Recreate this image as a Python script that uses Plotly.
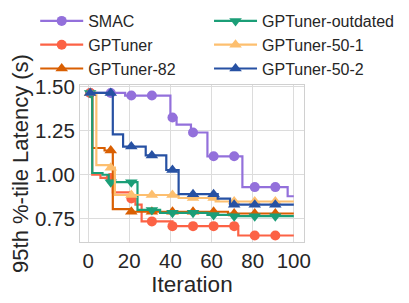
import numpy as np
import plotly.graph_objects as go

# Iteration axis
iterations = list(range(1, 101))
marker_iters = list(range(1, 101, 10))
x_ticks = [0, 20, 40, 60, 80, 100]
y_ticks = [0.75, 1.00, 1.25, 1.50]

series_names = ["SMAC", "GPTuner", "GPTuner-82",
                "GPTuner-outdated", "GPTuner-50-1", "GPTuner-50-2"]

# best-so-far latency: (iteration where value changes, new value)
smac_x = [1, 18, 40, 43, 50, 58, 75, 97]
smac_y = [1.465, 1.450, 1.325, 1.285, 1.240, 1.105, 0.930, 0.878]

gptuner_x = [1, 2, 6, 12, 21, 23, 26, 41, 73]
gptuner_y = [1.465, 1.000, 0.982, 0.900, 0.865, 0.830, 0.735, 0.708, 0.655]

gpt82_x = [1, 2, 8, 12, 21, 68]
gpt82_y = [1.465, 1.152, 1.138, 0.805, 0.790, 0.780]

outdated_x = [1, 2, 7, 10, 24, 35, 58, 70]
outdated_y = [1.465, 1.010, 1.000, 0.958, 0.800, 0.784, 0.772, 0.765]

gpt501_x = [1, 4, 10, 13, 44, 62]
gpt501_y = [1.465, 1.055, 1.040, 0.885, 0.868, 0.848]

gpt502_x = [1, 12, 17, 28, 38, 44, 63, 69]
gpt502_y = [1.465, 1.230, 1.160, 1.110, 1.027, 0.890, 0.865, 0.830]

breaks = [(smac_x, smac_y), (gptuner_x, gptuner_y), (gpt82_x, gpt82_y),
          (outdated_x, outdated_y), (gpt501_x, gpt501_y), (gpt502_x, gpt502_y)]

colors = ["#9370DB", "#FC6245", "#D95F02", "#1B9E77", "#FDBF6F", "#2751A3"]
symbols = ["circle", "circle", "triangle-up", "triangle-down", "triangle-up", "triangle-up"]
legend_ids = ["legend", "legend", "legend", "legend2", "legend2", "legend2"]

FONT = "Liberation Sans, Arial, sans-serif"
TXT = "#262626"

fig = go.Figure()


def expand(bx, by):
    idx = np.searchsorted(np.array(bx), np.array(iterations), side="right") - 1
    return [by[i] for i in idx]


for name, (bx, by), c, s, lg in zip(series_names, breaks, colors, symbols, legend_ids):
    full = expand(bx, by)
    fig.add_trace(go.Scatter(x=iterations, y=full, mode="lines", line=dict(color=c, width=2.2, shape="hv"),
                             showlegend=False, hoverinfo="skip"))
    my = [full[iterations.index(m)] for m in marker_iters]
    fig.add_trace(go.Scatter(x=marker_iters, y=my, mode="markers",
                             marker=dict(symbol=s, color=c, size=10 if s == "circle" else 11),
                             showlegend=False))
    fig.add_trace(go.Scatter(x=[None], y=[None], mode="lines+markers", name=name,
                             line=dict(color=c, width=2.2),
                             marker=dict(symbol=s, color=c, size=10 if s == "circle" else 11),
                             legend=lg))

# page body adds an 8px offset; compensate so the plot area sits at x 80-304, y 85-242
fig.update_layout(
    width=401, height=295,
    margin=dict(l=72, r=105, t=77, b=61, autoexpand=False),
    plot_bgcolor="white", paper_bgcolor="white",
    font=dict(family=FONT, color=TXT),
    legend=dict(x=-0.2, y=1.516, xanchor="left", yanchor="top", itemwidth=43,
                font=dict(size=16, family=FONT, color=TXT), bgcolor="rgba(0,0,0,0)"),
    legend2=dict(x=0.576, y=1.516, xanchor="left", yanchor="top", itemwidth=43,
                 font=dict(size=16, family=FONT, color=TXT), bgcolor="rgba(0,0,0,0)"),
)
fig.update_xaxes(range=[-3.95, 104.95], tickvals=x_ticks, ticktext=[str(v) for v in x_ticks],
                 showgrid=True, gridcolor="#dcdcdc", gridwidth=1, zeroline=False,
                 showline=True, linecolor="#d0d0d0", linewidth=1, mirror=True,
                 ticks="", tickfont=dict(size=20.5, family=FONT, color=TXT),
                 title=dict(text="Iteration", font=dict(size=22.5, family=FONT, color=TXT), standoff=4))
fig.update_yaxes(range=[0.618, 1.51], tickvals=y_ticks, ticktext=[f"{v:.2f}" for v in y_ticks],
                 showgrid=True, gridcolor="#dcdcdc", gridwidth=1, zeroline=False,
                 showline=True, linecolor="#d0d0d0", linewidth=1, mirror=True,
                 ticks="", tickfont=dict(size=20.5, family=FONT, color=TXT),
                 title=dict(text="95th %-tile Latency (s)", font=dict(size=22, family=FONT, color=TXT), standoff=0))

fig.write_html("out.html")
